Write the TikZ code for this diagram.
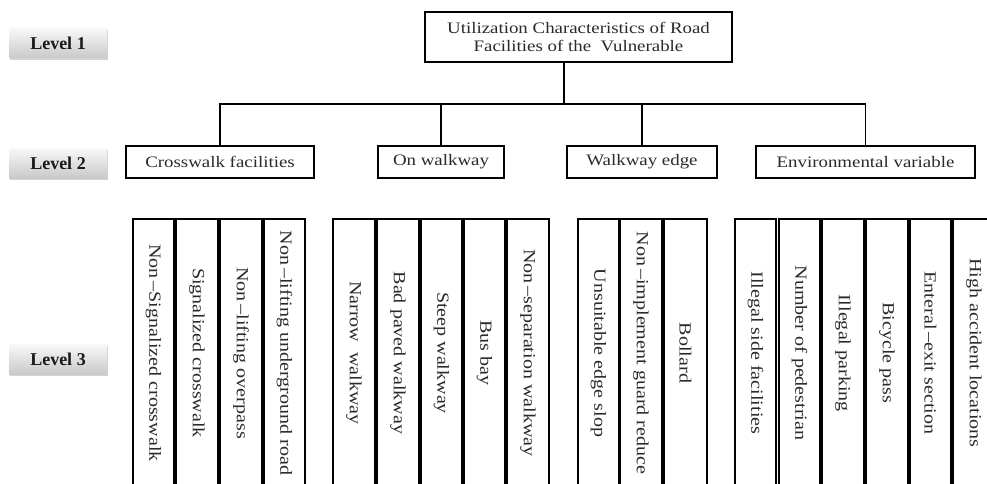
\documentclass[tikz,border=0pt]{standalone}
\usepackage{fontspec}
\setmainfont{Liberation Serif}
\newfontfamily\boxfont[FakeStretch=1.18]{Liberation Serif}
\usetikzlibrary{shadows}
\definecolor{txt}{HTML}{2A2A2A}
\begin{document}
\begin{tikzpicture}[x=1pt,y=-1pt,
  lvl/.style={draw=none, top color=gray!5, bottom color=gray!42, minimum width=98pt, minimum height=30pt,
    font=\fontsize{18}{18}\selectfont\bfseries, text=black!90, inner sep=0pt,
    drop shadow={shadow xshift=1pt, shadow yshift=-2pt, opacity=0.35, fill=gray}},
  hbox/.style={draw, line width=1.1pt, fill=white, inner sep=0pt, font=\boxfont\fontsize{16}{18.5}\selectfont, text=txt, align=center},
  vbox/.style={draw, line width=1.3pt, fill=white, inner sep=0pt},
  vtxt/.style={rotate=-90, font=\boxfont\fontsize{17}{17}\selectfont, text=txt, inner sep=0pt},
  conn/.style={line width=1.1pt}]
\useasboundingbox (0,0) rectangle (987,484);
\clip (0,0) rectangle (987,484);
% level labels
\node[lvl] (l1) at (58,43) {Level 1};
\node[lvl] (l2) at (58,163) {Level 2};
\node[lvl] (l3) at (58,359) {Level 3};
% top
\node[hbox, minimum width=307pt, minimum height=50pt] (top) at (578.5,37) {Utilization Characteristics of Road\\[-1pt]Facilities of the\ \ Vulnerable};
% level 2
\node[hbox, minimum width=188pt, minimum height=32pt] (c1) at (220,162) {Crosswalk facilities};
\node[hbox, minimum width=126pt, minimum height=32pt] (c2) at (441,162) {On walkway};
\node[hbox, minimum width=150pt, minimum height=32pt] (c3) at (642,162) {Walkway edge};
\node[hbox, minimum width=219pt, minimum height=32pt] (c4) at (865.5,162) {Environmental variable};
\coordinate (j) at (564,104);
\draw[conn] (j |- top.south) -- (j);
\draw[conn] (c1.north) |- (j) -| (c4.north);
\draw[conn] (c2.north) -- (c2.north |- j);
\draw[conn] (c3.north) -- (c3.north |- j);
% level 3 boxes
\foreach \n/\a/\b/\t in {
  a1/133/174/{Non{\,}{\textendash}Signalized crosswalk},
  a2/176/218/{Signalized crosswalk},
  a3/220/262/{Non{\,}{\textendash}lifting overpass},
  a4/264/305/{Non{\,}{\textendash}lifting underground road},
  b1/333/375/{Narrow\ \ walkway},
  b2/377/419/{Bad paved walkway},
  b3/421/462/{Steep walkway},
  b4/464/505/{Bus bay},
  b5/507/549/{Non{\,}{\textendash}separation walkway},
  d1/578/619/{Unsuitable edge slop},
  d2/620/662/{Non{\,}{\textendash}implement guard reduce},
  d3/664/707/{Bollard},
  e1/735/776/{Illegal side facilities},
  e2/779/820/{Number of pedestrian},
  e3/822/864/{Illegal parking},
  e4/866/908/{Bicycle pass},
  e5/910/951/{Enteral{\,}{\textendash}exit section},
  e6/953/995/{High accident locations}} {
  \draw[vbox] (\a,219) rectangle (\b,492);
  \node[vtxt] (\n) at ({(\a+\b)/2},353) {\t};
}
\end{tikzpicture}
\end{document}
